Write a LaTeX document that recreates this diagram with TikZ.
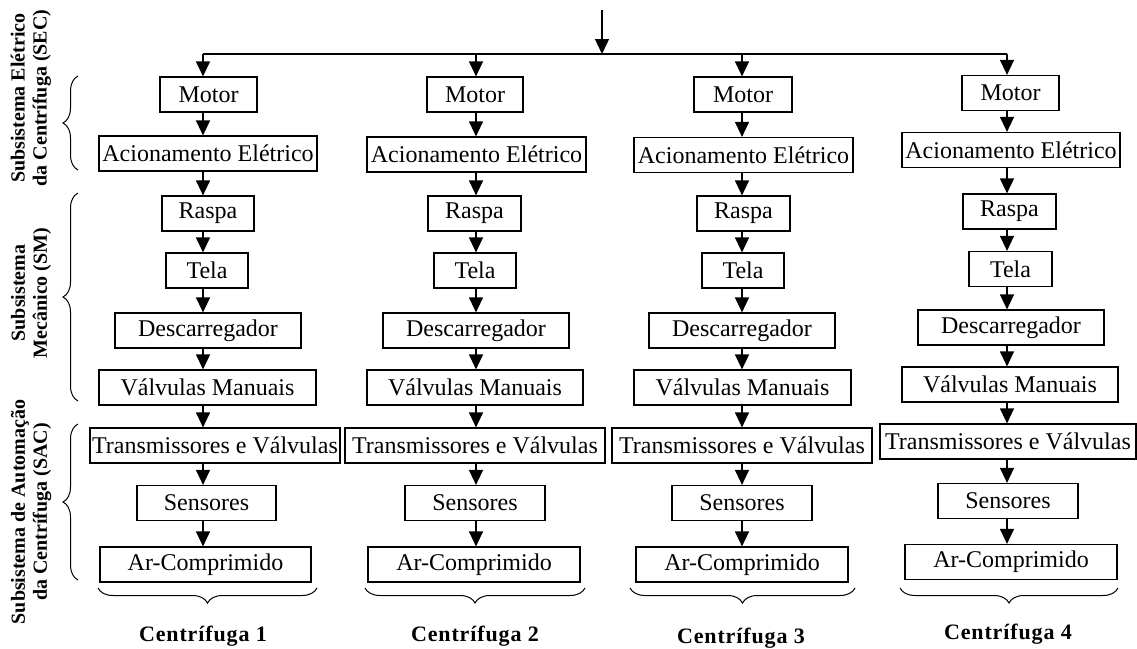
\documentclass[tikz,border=0pt]{standalone}
\usepackage{fontspec}
\setmainfont{Liberation Serif}
\newfontfamily\spacedfont[LetterSpace=4]{Liberation Serif}
\usetikzlibrary{arrows.meta,decorations.pathreplacing}
\newcommand\bx[5]{\node[box,minimum width=#4pt] (#1) at (#2,#3) {#5};}
\begin{document}
\begin{tikzpicture}[x=1pt,y=-1pt,
  box/.style={draw,line width=1.2pt,minimum height=35pt,inner sep=0pt,font=\fontsize{24}{27}\selectfont},
  arr/.style={line width=1.3pt,-{Triangle[width=14pt,length=15pt]}},
  lbl/.style={font=\fontsize{20}{22}\selectfont\bfseries,align=center,rotate=90},
  captext/.style={font=\spacedfont\fontsize{22}{24}\selectfont\bfseries},
  brc/.style={decorate,decoration={brace,amplitude=15pt},line width=1pt}]
\useasboundingbox (0,0) rectangle (1137,648);
\fill[white] (0,0) rectangle (1137,648);
% column axes
\coordinate (ax1) at (203,0);
\coordinate (ax2) at (476,0);
\coordinate (ax3) at (742,0);
\coordinate (ax4) at (1007,0);
\coordinate (top) at (602,10);
\coordinate (j) at (602,54);
% column 1
\bx{m1}{208.5}{94.5}{97}{Motor}
\bx{a1}{208}{153.5}{218}{Acionamento Elétrico}
\bx{r1}{208}{213.5}{92}{Raspa}
\bx{t1}{207}{270.5}{82}{Tela}
\bx{d1}{208}{330.5}{186}{Descarregador}
\bx{v1}{207.5}{387.5}{217}{Válvulas Manuais}
\bx{tr1}{215}{445.5}{250}{Transmissores e Válvulas}
\bx{s1}{206.5}{503}{139}{Sensores}
\bx{ar1}{205.5}{564.5}{211}{Ar-Comprimido}
% column 2
\bx{m2}{475}{94.5}{96}{Motor}
\bx{a2}{476.5}{154.5}{219}{Acionamento Elétrico}
\bx{r2}{474.5}{213.5}{93}{Raspa}
\bx{t2}{475}{270.5}{82}{Tela}
\bx{d2}{476}{330.5}{186}{Descarregador}
\bx{v2}{475}{387.5}{216}{Válvulas Manuais}
\bx{tr2}{475}{445.5}{260}{Transmissores e Válvulas}
\bx{s2}{475}{503}{140}{Sensores}
\bx{ar2}{474}{564.5}{212}{Ar-Comprimido}
% column 3
\bx{m3}{743}{94.5}{98}{Motor}
\bx{a3}{743.5}{155}{219}{Acionamento Elétrico}
\bx{r3}{743.5}{213.5}{93}{Raspa}
\bx{t3}{743}{270.5}{82}{Tela}
\bx{d3}{742}{330.5}{186}{Descarregador}
\bx{v3}{742.5}{387.5}{217}{Válvulas Manuais}
\bx{tr3}{742}{445.5}{260}{Transmissores e Válvulas}
\bx{s3}{742}{503}{140}{Sensores}
\bx{ar3}{742}{564.5}{212}{Ar-Comprimido}
% column 4
\bx{m4}{1010.5}{93}{97}{Motor}
\bx{a4}{1011}{150}{218}{Acionamento Elétrico}
\bx{r4}{1009.5}{211.5}{93}{Raspa}
\bx{t4}{1010.5}{269}{83}{Tela}
\bx{d4}{1011}{327.5}{186}{Descarregador}
\bx{v4}{1010}{384.5}{216}{Válvulas Manuais}
\bx{tr4}{1008}{441.5}{256}{Transmissores e Válvulas}
\bx{s4}{1008}{501}{140}{Sensores}
\bx{ar4}{1011}{562}{212}{Ar-Comprimido}
% top arrow and distribution line
\draw[arr] (top) -- (j);
\draw[line width=1.3pt] (ax1 |- j) -- (ax4 |- j);
\foreach \c in {1,2,3,4}{
  \draw[arr] (ax\c |- j) -- (m\c.north -| ax\c);
  \draw[arr] (m\c.south -| ax\c) -- (a\c.north -| ax\c);
  \draw[arr] (a\c.south -| ax\c) -- (r\c.north -| ax\c);
  \draw[arr] (r\c.south -| ax\c) -- (t\c.north -| ax\c);
  \draw[arr] (t\c.south -| ax\c) -- (d\c.north -| ax\c);
  \draw[arr] (d\c.south -| ax\c) -- (v\c.north -| ax\c);
  \draw[arr] (v\c.south -| ax\c) -- (tr\c.north -| ax\c);
  \draw[arr] (tr\c.south -| ax\c) -- (s\c.north -| ax\c);
  \draw[arr] (s\c.south -| ax\c) -- (ar\c.north -| ax\c);
}
% bottom braces and captions
\draw[brc] (317,588) -- (98,588);
\draw[brc] (585,588) -- (365,588);
\draw[brc] (855,588) -- (630,588);
\draw[brc] (1118,588) -- (900,588);
\node[captext] (c1) at (203,636) {Centrífuga 1};
\node[captext] (c2) at (475,636) {Centrífuga 2};
\node[captext] (c3) at (741,638) {Centrífuga 3};
\node[captext] (c4) at (1008,634) {Centrífuga 4};
% left braces and labels
\draw[brc] (78,170) -- (78,76);
\draw[brc] (78,401) -- (78,193);
\draw[brc] (78,580) -- (78,424);
\node[lbl] (l1) at (31,98) {Subsistema Elétrico\\da Centrífuga (SEC)};
\node[lbl] (l2) at (31,293) {Subsistema\\Mecânico (SM)};
\node[lbl] (l3) at (31,512) {Subsistema de Automação\\da Centrífuga (SAC)};
\end{tikzpicture}
\end{document}
